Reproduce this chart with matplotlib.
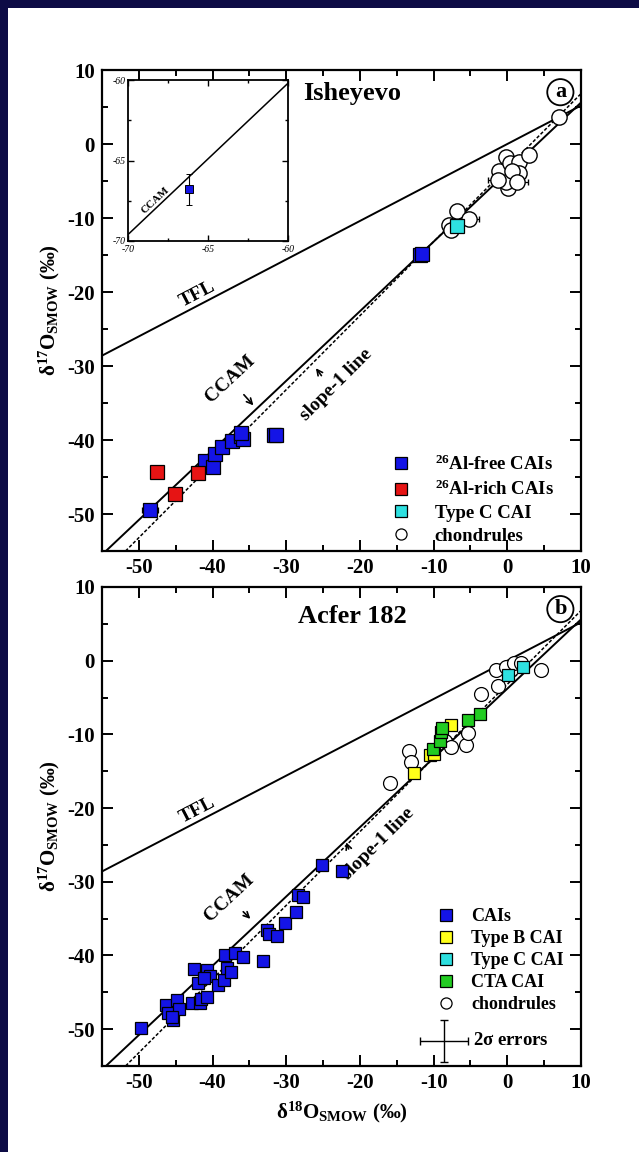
import numpy as np
import matplotlib
matplotlib.use("Agg")
import matplotlib.pyplot as plt
from matplotlib.lines import Line2D
from matplotlib.patches import Rectangle

plt.rcParams['font.family'] = ['Liberation Serif', 'DejaVu Serif']
plt.rcParams['font.weight'] = 'bold'
plt.rcParams['axes.unicode_minus'] = False
plt.rcParams['mathtext.fontset'] = 'custom'
plt.rcParams['mathtext.rm'] = 'Liberation Serif'
plt.rcParams['mathtext.bf'] = 'Liberation Serif:bold'
plt.rcParams['mathtext.it'] = 'Liberation Serif:italic'

# reference lines (slope, intercept)
tfl = (0.52, 0.0)
ccam = (0.94, -3.8)
slope1 = (1.0, -3.2)

# Isheyevo
ish_free_x = [-48.5, -41.0, -40.0, -39.7, -38.7, -37.4, -36.2, -35.9, -36.1, -31.7, -31.4, -11.9, -11.6]
ish_free_y = [-49.4, -42.8, -43.6, -41.9, -40.9, -40.2, -39.4, -39.9, -39.1, -39.3, -39.3, -15.0, -14.9]
ish_free_xerr = [1.1, 0, 0, 0, 0, 0, 0, 0, 0, 0, 0, 0, 0]
ish_rich_x = [-47.5, -45.1, -42.0]
ish_rich_y = [-44.3, -47.3, -44.5]
ish_rich_xerr = [0.7, 0.5, 0.4]
ish_typec_x = [-6.8]
ish_typec_y = [-11.1]
ish_chon_x = [7.0, -6.8, -7.9, -5.2, -7.6, -0.2, -1.1, 0.3, 1.6, 3.0, 1.6, 0.1, -0.2, -1.3, 0.7, 1.3]
ish_chon_y = [3.7, -9.0, -10.9, -10.2, -11.6, -1.8, -3.6, -2.6, -2.4, -1.5, -3.9, -5.9, -5.1, -4.9, -3.7, -5.1]
ish_chon_xerr = [0, 0, 0, 1.3, 0, 0, 0, 0, 0, 0, 0, 0, 0, 1.3, 0, 1.5]

# inset point
inset_x = [-66.2]
inset_y = [-66.8]
inset_yerr = [0.95]

# Acfer 182
acf_cai_x = [-49.7, -46.3, -46.1, -45.3, -44.8, -44.6, -45.5, -42.8, -42.5, -42.0, -41.7, -41.5,
             -40.7, -40.4, -40.8, -41.2, -39.3, -38.5, -38.0, -37.5, -38.3, -37.0, -35.9, -33.1,
             -32.6, -32.4, -31.3, -30.1, -28.7, -28.4, -27.7, -25.2, -22.5]
acf_cai_y = [-49.8, -46.7, -47.8, -48.7, -46.0, -47.2, -48.3, -46.4, -41.9, -43.7, -46.4, -45.9,
             -42.0, -42.8, -45.6, -43.1, -44.0, -43.3, -41.7, -42.3, -39.9, -39.7, -40.2, -40.8,
             -36.5, -37.1, -37.4, -35.6, -34.1, -31.8, -32.0, -27.7, -28.5]
acf_typeb_x = [-12.6, -10.5, -9.9, -7.7]
acf_typeb_y = [-15.3, -12.8, -12.6, -8.7]
acf_typec_x = [0.1, 2.1]
acf_typec_y = [-2.0, -0.8]
acf_cta_x = [-10.1, -9.1, -9.0, -8.8, -5.3, -3.7]
acf_cta_y = [-12.0, -10.9, -9.7, -9.2, -8.0, -7.3]
acf_chon_x = [-15.9, -13.3, -13.1, -8.4, -7.6, -5.6, -5.3, -3.6, -1.2, -1.6, -0.2, 0.9, 1.9, 4.6]
acf_chon_y = [-16.6, -12.2, -13.8, -10.9, -11.7, -11.4, -9.8, -4.5, -3.5, -1.2, -0.8, -0.3, -0.3, -1.2]

blue = '#1414e6'
red = '#e61414'
cyan = '#2ee0e0'
yellow = '#ffff1a'
green = '#22cc22'

fig = plt.figure(figsize=(6.39, 11.52), dpi=100)
fig.patch.set_facecolor('#0d0b45')
fig.add_artist(Rectangle((8 / 639, 0), 1, 1 - 8 / 1152, transform=fig.transFigure,
                         facecolor='white', edgecolor='none', zorder=-10))


def style_axes(ax, xlabels=True):
    ax.set_xlim(-55, 10)
    ax.set_ylim(-55, 10)
    ax.set_xticks(np.arange(-50, 11, 10))
    ax.set_yticks(np.arange(-50, 11, 10))
    ax.set_xticks(np.arange(-55, 11, 5), minor=True)
    ax.set_yticks(np.arange(-55, 11, 5), minor=True)
    ax.tick_params(which='both', direction='in', top=True, right=True, width=1.4, labelsize=15)
    ax.tick_params(which='major', length=8, pad=5)
    ax.tick_params(which='minor', length=4)
    for s in ax.spines.values():
        s.set_linewidth(1.6)
    if not xlabels:
        ax.set_xticklabels([])
    for lab in ax.get_xticklabels() + ax.get_yticklabels():
        lab.set_fontweight('bold')


def draw_lines(ax, tfl_txt, ccam_txt, ccam_arrow, s1_txt, s1_arrow):
    xx = np.array([-60, 12])
    ax.plot(xx, tfl[0] * xx + tfl[1], color='black', lw=1.4, zorder=2)
    ax.plot(xx, ccam[0] * xx + ccam[1], color='black', lw=1.4, zorder=2)
    ax.plot(xx, slope1[0] * xx + slope1[1], color='black', lw=1.1, ls=(0, (2.2, 1.3)), zorder=2)
    ax.text(tfl_txt[0], tfl_txt[1], 'TFL', rotation=27.5, rotation_mode='anchor',
            ha='center', va='bottom', fontsize=14, fontweight='bold')
    ax.text(ccam_txt[0], ccam_txt[1], 'CCAM', rotation=43, rotation_mode='anchor',
            ha='center', va='center', fontsize=14, fontweight='bold')
    ax.annotate('', xy=ccam_arrow[1], xytext=ccam_arrow[0],
                arrowprops=dict(arrowstyle='->', lw=1.2, color='black'))
    ax.text(s1_txt[0], s1_txt[1], 'slope-1 line', rotation=45, rotation_mode='anchor',
            ha='center', va='center', fontsize=14, fontweight='bold')
    ax.annotate('', xy=s1_arrow[1], xytext=s1_arrow[0],
                arrowprops=dict(arrowstyle='->', lw=1.2, color='black'))


sq = dict(marker='s', ls='none', mec='black', mew=0.9)

# ---- panel a ----
ax1 = fig.add_axes([102 / 639, 1 - 551 / 1152, 479 / 639, 481 / 1152])
style_axes(ax1)
draw_lines(ax1, (-41.5, -21.3), (-37.6, -31.8), ((-36.0, -33.6), (-34.2, -35.6)),
           (-23.2, -32.6), ((-25.0, -31.6), (-26.2, -30.0)))
ax1.errorbar(ish_chon_x, ish_chon_y, xerr=ish_chon_xerr, fmt='o', ms=11, mfc='white', mec='black',
             mew=1.0, ecolor='black', elinewidth=0.9, capsize=2.5, zorder=3)
ax1.errorbar(ish_free_x, ish_free_y, xerr=ish_free_xerr, fmt='s', ms=10, mfc=blue, mec='black',
             mew=0.9, ecolor='black', elinewidth=0.9, capsize=2.5, zorder=4)
ax1.errorbar(ish_rich_x, ish_rich_y, xerr=ish_rich_xerr, fmt='s', ms=10, mfc=red, mec='black',
             mew=0.9, ecolor='black', elinewidth=0.9, capsize=2.5, zorder=4)
ax1.plot(ish_typec_x, ish_typec_y, ms=10, mfc=cyan, zorder=4, **sq)
ax1.text(-21, 6.8, 'Isheyevo', ha='center', va='center', fontsize=19, fontweight='bold')
ax1.text(7.2, 7.0, 'a', ha='center', va='center', fontsize=16, fontweight='bold',
         bbox=dict(boxstyle='circle,pad=0.14', fc='white', ec='black', lw=1.3))
ax1.set_ylabel(r'$\mathrm{\delta}^{\mathbf{17}}\mathbf{O}_{\mathbf{SMOW}}$ (‰)', fontsize=15,
               fontweight='bold', labelpad=4)

h1 = [Line2D([], [], ms=8, mfc=blue, **sq),
      Line2D([], [], ms=8, mfc=red, **sq),
      Line2D([], [], ms=8, mfc=cyan, **sq),
      Line2D([], [], marker='o', ls='none', ms=8, mfc='white', mec='black', mew=0.9)]
l1 = [r'$^{\mathbf{26}}$Al-free CAIs', r'$^{\mathbf{26}}$Al-rich CAIs', 'Type C CAI', 'chondrules']
ax1.legend(h1, l1, loc='lower left', bbox_to_anchor=(0.585, -0.007), frameon=False,
           handlelength=1.0, handletextpad=1.3, labelspacing=0.31, borderpad=0,
           prop=dict(family='Liberation Serif', weight='bold', size=13.5))

# inset
axin = fig.add_axes([128 / 639, 1 - 241 / 1152, 160 / 639, 161 / 1152])
axin.set_xlim(-70, -60)
axin.set_ylim(-70, -60)
axin.set_xticks([-70, -65, -60])
axin.set_yticks([-70, -65, -60])
axin.set_xticks(np.arange(-70, -59, 2.5), minor=True)
axin.set_yticks(np.arange(-70, -59, 2.5), minor=True)
axin.tick_params(which='both', direction='in', top=True, right=True, labelsize=7, width=1.0)
axin.tick_params(axis='x', pad=3)
axin.tick_params(axis='y', pad=1.5)
axin.tick_params(which='major', length=4)
axin.tick_params(which='minor', length=2)
for lab in axin.get_xticklabels() + axin.get_yticklabels():
    lab.set_fontweight('normal')
    lab.set_fontstyle('italic')
for s in axin.spines.values():
    s.set_linewidth(1.3)
xi = np.array([-72, -58])
axin.plot(xi, ccam[0] * xi + ccam[1], color='black', lw=1.1)
axin.errorbar(inset_x, inset_y, yerr=inset_yerr, fmt='s', ms=6, mfc=blue, mec='black', mew=0.7,
              ecolor='black', elinewidth=0.8, capsize=2)
axin.text(-68.3, -67.5, 'CCAM', rotation=43, rotation_mode='anchor', ha='center', va='center',
          fontsize=8, fontweight='bold')

# ---- panel b ----
ax2 = fig.add_axes([102 / 639, 1 - 1066 / 1152, 479 / 639, 479 / 1152])
style_axes(ax2)
draw_lines(ax2, (-41.5, -21.3), (-37.8, -32.2), ((-36.1, -33.8), (-34.6, -35.3)),
           (-17.5, -24.9), ((-21.4, -25.9), (-22.0, -24.3)))
ax2.plot(acf_chon_x, acf_chon_y, marker='o', ls='none', ms=10, mfc='white', mec='black',
         mew=0.9, zorder=3)
ax2.plot(acf_cai_x, acf_cai_y, ms=9, mfc=blue, zorder=4, **sq)
ax2.plot(acf_typeb_x, acf_typeb_y, ms=9, mfc=yellow, zorder=4, **sq)
ax2.plot(acf_typec_x, acf_typec_y, ms=9, mfc=cyan, zorder=4, **sq)
ax2.plot(acf_cta_x, acf_cta_y, ms=9, mfc=green, zorder=4, **sq)
ax2.errorbar([-8.6], [-51.6], xerr=[3.2], yerr=[2.9], fmt='none', ecolor='black',
             elinewidth=1.0, capsize=3)
ax2.text(-4.6, -51.6, r'2$\mathrm{\sigma}$ errors', ha='left', va='center', fontsize=13.5,
         fontweight='bold')
ax2.text(-21, 6.0, 'Acfer 182', ha='center', va='center', fontsize=19, fontweight='bold')
ax2.text(7.2, 7.0, 'b', ha='center', va='center', fontsize=16, fontweight='bold',
         bbox=dict(boxstyle='circle,pad=0.14', fc='white', ec='black', lw=1.3))
ax2.set_ylabel(r'$\mathrm{\delta}^{\mathbf{17}}\mathbf{O}_{\mathbf{SMOW}}$ (‰)', fontsize=15,
               fontweight='bold', labelpad=4)
ax2.set_xlabel(r'$\mathrm{\delta}^{\mathbf{18}}\mathbf{O}_{\mathbf{SMOW}}$ (‰)', fontsize=15,
               fontweight='bold', labelpad=5)

h2 = [Line2D([], [], ms=8, mfc=blue, **sq),
      Line2D([], [], ms=8, mfc=yellow, **sq),
      Line2D([], [], ms=8, mfc=cyan, **sq),
      Line2D([], [], ms=8, mfc=green, **sq),
      Line2D([], [], marker='o', ls='none', ms=8, mfc='white', mec='black', mew=0.9)]
l2 = ['CAIs', 'Type B CAI', 'Type C CAI', 'CTA CAI', 'chondrules']
ax2.legend(h2, l2, loc='lower left', bbox_to_anchor=(0.68, 0.092), frameon=False,
           handlelength=1.0, handletextpad=0.9, labelspacing=0.27, borderpad=0,
           prop=dict(family='Liberation Serif', weight='bold', size=13))

fig.savefig('out.png', dpi=100, facecolor=fig.get_facecolor())
